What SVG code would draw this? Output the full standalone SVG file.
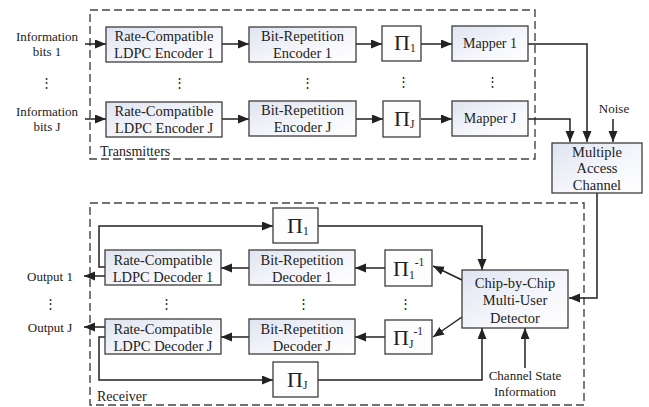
<svg xmlns="http://www.w3.org/2000/svg" width="649" height="407" viewBox="0 0 649 407" font-family="'Liberation Serif', 'Tinos', 'DejaVu Serif', serif">
<defs>
<linearGradient id="bg" x1="0" y1="0" x2="1" y2="1">
<stop offset="0" stop-color="#dfe4f1"/>
<stop offset="0.6" stop-color="#f6f7fb"/>
<stop offset="1" stop-color="#ffffff"/>
</linearGradient>
<marker id="ah" markerUnits="userSpaceOnUse" markerWidth="12" markerHeight="10" refX="11" refY="4.5" orient="auto">
<path d="M0,0 L11,4.5 L0,9 z" fill="#222"/>
</marker>
<style>
.box{fill:url(#bg);stroke:#3c3c3c;stroke-width:1.3}
.pbox{fill:#fdfdfe;stroke:#3c3c3c;stroke-width:1.3}
.grp{fill:none;stroke:#444;stroke-width:1.4;stroke-dasharray:8 4}
.c{fill:none;stroke:#222;stroke-width:1.5}
.a{marker-end:url(#ah)}
text{fill:#222}
.t{font-size:14.5px;text-anchor:middle}
.s{font-size:13px;text-anchor:middle}
.g{font-size:14px}
.pi{font-size:22px}
.sub{font-size:11.5px}
.dots{font-size:13px;text-anchor:middle}
</style>
</defs>

<g id="transmitters">
<rect class="grp" x="90" y="10" width="445" height="149"/>
<text class="g" x="100" y="156">Transmitters</text>
</g>
<g id="receiver">
<rect class="grp" x="90" y="203" width="494" height="202"/>
<text class="g" x="97" y="401">Receiver</text>
</g>

<g id="connectors">
<line class="c a" x1="85" y1="44" x2="106" y2="44"/>
<line class="c a" x1="222" y1="44" x2="249" y2="44"/>
<line class="c a" x1="356" y1="44" x2="382" y2="44"/>
<line class="c a" x1="421" y1="44" x2="452" y2="44"/>
<polyline class="c a" points="528,44 587,44 587,142"/>
<line class="c a" x1="85" y1="119" x2="106" y2="119"/>
<line class="c a" x1="222" y1="119" x2="249" y2="119"/>
<line class="c a" x1="356" y1="119" x2="383" y2="119"/>
<line class="c a" x1="421" y1="119" x2="452" y2="119"/>
<polyline class="c a" points="528,119 570,119 570,142"/>
<line class="c a" x1="613" y1="119" x2="613" y2="142"/>
<polyline class="c a" points="597,193 597,298 569,298"/>
<polyline class="c a" points="318,226 482,226 482,270"/>
<polyline class="c a" points="318,380 482,380 482,328"/>
<line class="c a" x1="525" y1="368" x2="525" y2="328"/>
<line class="c a" x1="462" y1="280" x2="433" y2="266"/>
<line class="c a" x1="462" y1="317" x2="433" y2="337"/>
<line class="c a" x1="385" y1="268" x2="355" y2="268"/>
<line class="c a" x1="385" y1="337" x2="355" y2="337"/>
<line class="c a" x1="249" y1="268" x2="221" y2="268"/>
<line class="c a" x1="249" y1="337" x2="221" y2="337"/>
<line class="c a" x1="105" y1="276" x2="84" y2="276"/>
<line class="c a" x1="105" y1="327" x2="84" y2="327"/>
<polyline class="c a" points="105,267 99,267 99,226 273,226"/>
<polyline class="c a" points="105,337 99,337 99,380 273,380"/>
</g>

<g id="info1"><text class="s" x="47" y="40.5">Information</text><text class="s" x="47" y="56">bits 1</text></g>
<g id="infoJ"><text class="s" x="47" y="115.5">Information</text><text class="s" x="47" y="131">bits J</text></g>

<g id="enc1"><rect class="box" x="106" y="27" width="116" height="35"/>
<text class="t" x="164" y="41">Rate-Compatible</text><text class="t" x="164" y="58">LDPC Encoder 1</text></g>
<g id="encJ"><rect class="box" x="106" y="102" width="116" height="35"/>
<text class="t" x="164" y="116">Rate-Compatible</text><text class="t" x="164" y="133">LDPC Encoder J</text></g>
<g id="bre1"><rect class="box" x="249" y="27" width="107" height="35"/>
<text class="t" x="302.5" y="41">Bit-Repetition</text><text class="t" x="302.5" y="58">Encoder 1</text></g>
<g id="breJ"><rect class="box" x="249" y="101" width="107" height="35"/>
<text class="t" x="302.5" y="115">Bit-Repetition</text><text class="t" x="302.5" y="132">Encoder J</text></g>
<g id="pi1t"><rect class="pbox" x="382" y="26" width="39" height="35"/>
<text class="pi" x="394" y="50">Π<tspan class="sub" dy="2">1</tspan></text></g>
<g id="piJt"><rect class="pbox" x="383" y="101" width="37" height="36"/>
<text class="pi" x="394" y="126">Π<tspan class="sub" dy="2">J</tspan></text></g>
<g id="map1"><rect class="box" x="452" y="26" width="76" height="35"/>
<text class="t" x="490" y="48" style="font-size:14px">Mapper 1</text></g>
<g id="mapJ"><rect class="box" x="452" y="101" width="76" height="35"/>
<text class="t" x="490" y="123" style="font-size:14px">Mapper J</text></g>
<g id="noise"><text class="s" x="614" y="113">Noise</text></g>
<g id="mac"><rect class="box" x="552" y="143" width="90" height="50"/>
<text class="t" x="597" y="157">Multiple</text><text class="t" x="597" y="173">Access</text><text class="t" x="597" y="190">Channel</text></g>

<g id="dots">
<text class="dots" x="46" y="87">⋮</text>
<text class="dots" x="179" y="87">⋮</text>
<text class="dots" x="307" y="87">⋮</text>
<text class="dots" x="403" y="86">⋮</text>
<text class="dots" x="492" y="86">⋮</text>
<text class="dots" x="50" y="308">⋮</text>
<text class="dots" x="166" y="308">⋮</text>
<text class="dots" x="303" y="308">⋮</text>
<text class="dots" x="405" y="308">⋮</text>
</g>

<g id="pi1r"><rect class="pbox" x="273" y="208" width="45" height="35"/>
<text class="pi" x="287" y="233">Π<tspan class="sub" dy="2">1</tspan></text></g>
<g id="piJr"><rect class="pbox" x="273" y="362" width="45" height="35"/>
<text class="pi" x="287" y="387">Π<tspan class="sub" dy="2">J</tspan></text></g>
<g id="dec1"><rect class="box" x="105" y="250" width="116" height="35"/>
<text class="t" x="163" y="265">Rate-Compatible</text><text class="t" x="163" y="282">LDPC Decoder 1</text></g>
<g id="decJ"><rect class="box" x="105" y="319" width="116" height="35"/>
<text class="t" x="163" y="334">Rate-Compatible</text><text class="t" x="163" y="351">LDPC Decoder J</text></g>
<g id="brd1"><rect class="box" x="249" y="250" width="106" height="35"/>
<text class="t" x="302" y="265">Bit-Repetition</text><text class="t" x="302" y="282">Decoder 1</text></g>
<g id="brdJ"><rect class="box" x="249" y="319" width="106" height="35"/>
<text class="t" x="302" y="334">Bit-Repetition</text><text class="t" x="302" y="351">Decoder J</text></g>
<g id="pi1inv"><rect class="pbox" x="385" y="250" width="47" height="36"/>
<text class="pi" x="393" y="276">Π<tspan class="sub" dy="3">1</tspan><tspan class="sub" dy="-13">-1</tspan></text></g>
<g id="piJinv"><rect class="pbox" x="385" y="320" width="47" height="34"/>
<text class="pi" x="393" y="345">Π<tspan class="sub" dy="3">J</tspan><tspan class="sub" dy="-13">-1</tspan></text></g>
<g id="det"><rect class="box" x="462" y="270" width="106" height="58"/>
<text class="t" x="515" y="288">Chip-by-Chip</text><text class="t" x="515" y="305">Multi-User</text><text class="t" x="515" y="323">Detector</text></g>
<g id="out1"><text class="s" x="50" y="280.5">Output 1</text></g>
<g id="outJ"><text class="s" x="50" y="331.5">Output J</text></g>
<g id="csi"><text class="s" x="525" y="380">Channel State</text><text class="s" x="525" y="396">Information</text></g>
</svg>
